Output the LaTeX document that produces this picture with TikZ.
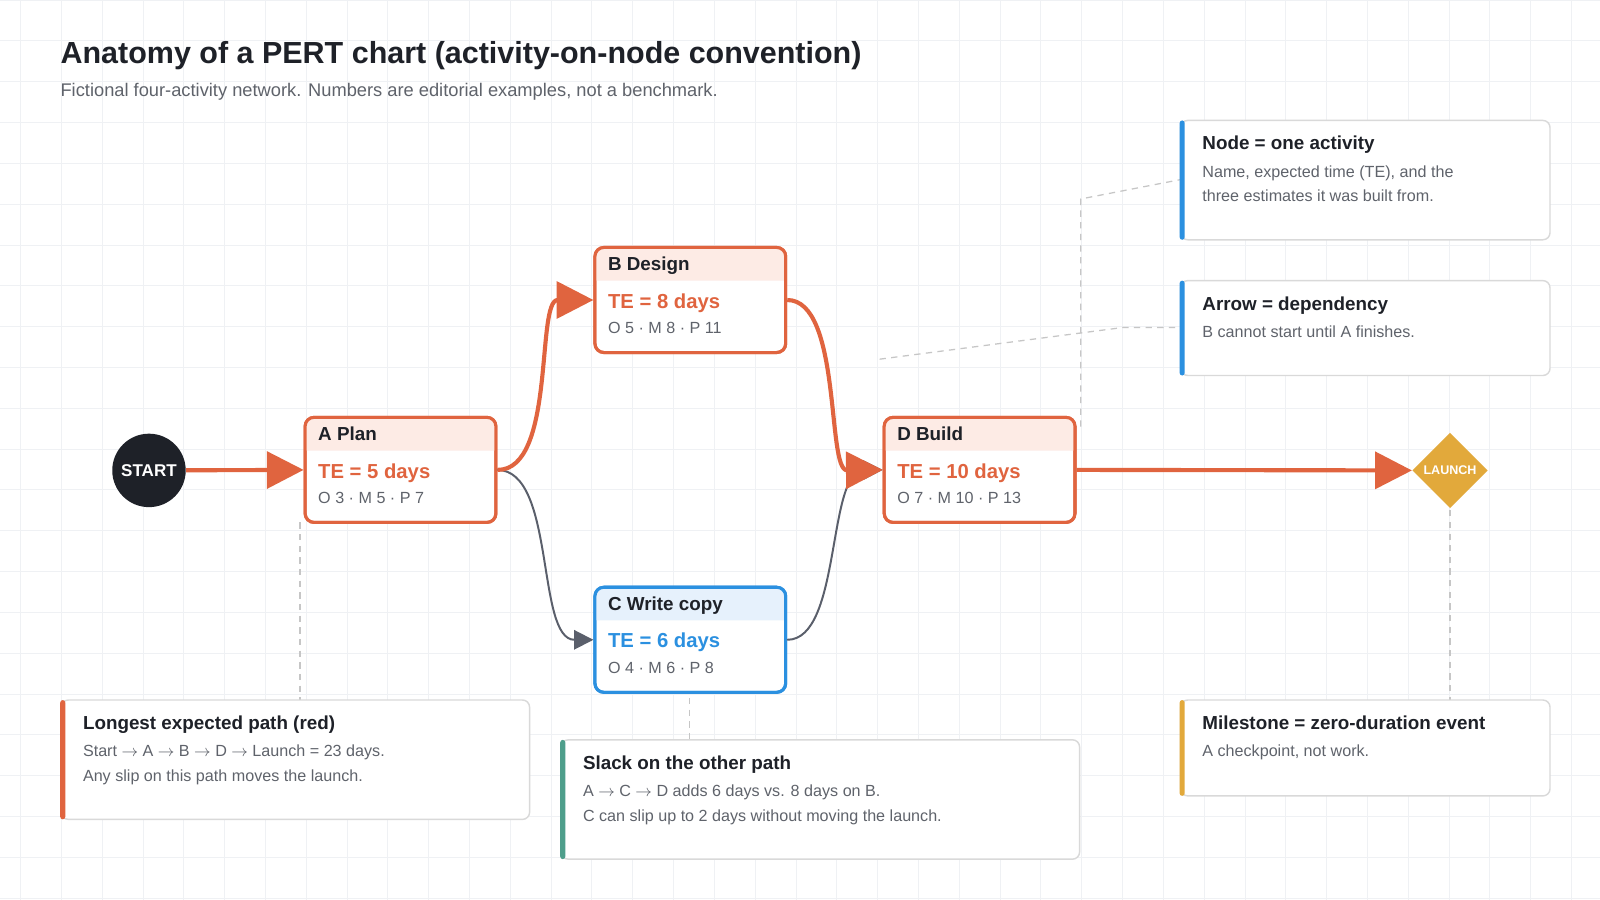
\documentclass[tikz,border=0pt]{standalone}
\usepackage{fontspec}
\setmainfont{Liberation Sans}
\usetikzlibrary{arrows.meta,shapes.geometric}
\definecolor{crit}{HTML}{E0643F}
\definecolor{critbg}{HTML}{FDEBE5}
\definecolor{slackc}{HTML}{2B90E0}
\definecolor{slackbg}{HTML}{E6F1FC}
\definecolor{ink}{HTML}{1E2128}
\definecolor{mute}{HTML}{5F636B}
\definecolor{edgegray}{HTML}{5A5F6B}
\definecolor{gold}{HTML}{E2A93B}
\definecolor{teal}{HTML}{4E9E8B}
\definecolor{gridc}{HTML}{EFF1F4}
\tikzset{
    activity/.style={draw, line width=1.7pt, rounded corners=5pt, minimum width=3.74cm, minimum height=2.06cm, inner sep=0pt},
    actname/.style={anchor=base west, inner sep=0pt, font=\fontsize{10.5}{12}\selectfont\bfseries, text=ink},
    actte/.style={anchor=base west, inner sep=0pt, font=\fontsize{11.3}{13}\selectfont\bfseries},
    actest/.style={anchor=base west, inner sep=0pt, font=\fontsize{9}{11}\selectfont, text=mute},
    critarrow/.style={line width=2.3pt, crit, -{Triangle[length=0.72cm, width=0.72cm]}},
    slackarrow/.style={line width=1.1pt, edgegray, -{Triangle[length=0.38cm, width=0.38cm]}},
    % callout styles
    callout/.style={draw=gray!30, line width=0.8pt, rounded corners=4pt, fill=white, inner sep=0pt},
    calltitle/.style={anchor=base west, inner sep=0pt, font=\fontsize{10.5}{12}\selectfont\bfseries, text=ink},
    calltext/.style={anchor=north west, align=left, font=\fontsize{9}{13.7}\selectfont, text=mute, inner sep=0pt},
    leader/.style={draw=gray!45, line width=0.7pt, dash pattern=on 3.5pt off 3pt}
}
% activity box: name, x, y (centre), title, TE, estimates, colour, header fill
\newcommand{\activity}[8]{
    \node[activity, draw=#7, fill=white] (#1) at (#2,#3) {};
    \fill[#8] ([xshift=1pt,yshift=-34*0.02cm]#1.north west) [rounded corners=4pt] -- ([xshift=1pt,yshift=-1pt]#1.north west) -- ([xshift=-1pt,yshift=-1pt]#1.north east) [sharp corners] -- ([xshift=-1pt,yshift=-34*0.02cm]#1.north east) -- cycle;
    \node[activity, draw=#7] at (#2,#3) {};
    \node[actname] at ([xshift=14*0.02cm,yshift=-24*0.02cm]#1.north west) {#4};
    \node[actte, text=#7] at ([xshift=14*0.02cm,yshift=-61*0.02cm]#1.north west) {#5};
    \node[actest] at ([xshift=14*0.02cm,yshift=-86*0.02cm]#1.north west) {#6};
}
% callout: name, x1, y1, x2, y2, colour, title, text
\newcommand{\callbox}[8]{
    \node[callout, minimum width={(#4-#2)*0.02cm}, minimum height={(#5-#3)*0.02cm}] (#1) at ({(#2+#4)/2},{(#3+#5)/2}) {};
    \fill[#6, rounded corners=1.5pt] (#2-1,#3) rectangle (#2+4,#5);
    \node[calltitle] at (#2+21,#3+29) {#7};
    \node[calltext] at (#2+21,#3+44) {#8};
}

\begin{document}
\begin{tikzpicture}[x=0.02cm, y=-0.02cm]
    \useasboundingbox (0,0) rectangle (1568,882);
    \fill[white] (0,0) rectangle (1568,882);
    \foreach \gx in {20,60,...,1560} \draw[gridc, line width=0.4pt] (\gx,0) -- (\gx,882);
    \foreach \gy in {0,40,...,880} \draw[gridc, line width=0.4pt] (0,\gy) -- (1568,\gy);

    % Title
    \node[anchor=base west, inner sep=0pt, font=\fontsize{17}{20}\selectfont\bfseries, text=ink] (title) at (59,62) {Anatomy of a PERT chart (activity-on-node convention)};
    \node[anchor=base west, inner sep=0pt, font=\fontsize{10.2}{12}\selectfont, text=mute] (subtitle) at (59,95) {Fictional four-activity network. Numbers are editorial examples, not a benchmark.};

    % Leader lines
    \coordinate (ldA) at (294,686);
    \coordinate (ldC) at (676,725);
    \coordinate (ldL) at (1421,686);
    \draw[leader] (294,512) -- (ldA);
    \draw[leader] (676,684) -- (ldC);
    \draw[leader] (1421,500) -- (ldL);
    \draw[leader] (1059,418) -- (1059,195) -- (1157,176);
    \draw[leader] (862,352) -- (1100,321) -- (1157,321);

    % Events
    \node[circle, fill=ink, minimum size=1.44cm, inner sep=0pt, text=white, font=\fontsize{9.5}{11}\selectfont\bfseries] (start) at (146,461) {START};
    \node[diamond, fill=gold, minimum size=1.48cm, inner sep=0pt, text=white, font=\fontsize{7}{8}\selectfont\bfseries] (launch) at (1421,461) {LAUNCH};

    % Activities
    \activity{a}{392.5}{460.5}{A Plan}{TE = 5 days}{O 3 · M 5 · P 7}{crit}{critbg}
    \activity{b}{676.5}{294}{B Design}{TE = 8 days}{O 5 · M 8 · P 11}{crit}{critbg}
    \activity{c}{676.5}{627}{C Write copy}{TE = 6 days}{O 4 · M 6 · P 8}{slackc}{slackbg}
    \activity{d}{960}{460.5}{D Build}{TE = 10 days}{O 7 · M 10 · P 13}{crit}{critbg}

    % Dependencies
    \draw[slackarrow] (a.east) .. controls (545,461) and (525,627) .. (c.west);
    \draw[slackarrow] (c.east) .. controls (825,627) and (810,461) .. (d.west);
    \draw[critarrow] (start) -- (a.west);
    \draw[critarrow] (a.east) .. controls (545,461) and (525,294) .. (b.west);
    \draw[critarrow] (b.east) .. controls (825,294) and (810,461) .. (d.west);
    \draw[critarrow] (d.east) -- (launch.west);

    % Callouts
    \callbox{cnode}{1157}{118}{1519}{235}{slackc}{Node = one activity}{Name, expected time (TE), and the\\three estimates it was built from.}
    \callbox{carrow}{1157}{275}{1519}{368}{slackc}{Arrow = dependency}{B cannot start until A finishes.}
    \callbox{ccrit}{60}{686}{519}{803}{crit}{Longest expected path (red)}{Start $\rightarrow$ A $\rightarrow$ B $\rightarrow$ D $\rightarrow$ Launch = 23 days.\\Any slip on this path moves the launch.}
    \callbox{cslack}{550}{725}{1058}{842}{teal}{Slack on the other path}{A $\rightarrow$ C $\rightarrow$ D adds 6 days vs. 8 days on B.\\C can slip up to 2 days without moving the launch.}
    \callbox{cmile}{1157}{686}{1519}{780}{gold}{Milestone = zero-duration event}{A checkpoint, not work.}
\end{tikzpicture}
\end{document}
